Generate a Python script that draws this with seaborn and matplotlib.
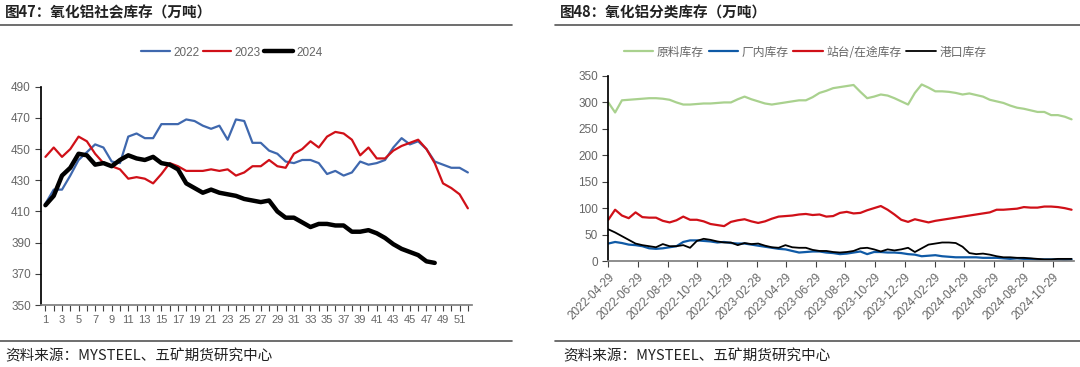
import pandas as pd
import matplotlib.pyplot as plt
from matplotlib.lines import Line2D
import seaborn as sns

# ---------------- data: social inventory by week (10k t) ----------------
weeks = list(range(1, 53))
stock_2022 = [415, 424, 424, 433, 443, 448, 453, 451, 442, 441, 458, 460, 457, 457, 466, 466, 466, 469,
              468, 465, 463, 465, 456, 469, 468, 454, 454, 449, 447, 442, 441, 443, 443, 441, 434, 436,
              433, 435, 442, 440, 441, 443, 451, 457, 453, 455, 450, 442, 440, 438, 438, 435]
stock_2023 = [445, 451, 445, 450, 458, 455, 447, 441, 439, 437, 431, 432, 431, 428, 434, 441, 439, 436,
              436, 436, 437, 436, 437, 433, 435, 439, 439, 443, 439, 438, 447, 450, 455, 451, 458, 461,
              460, 456, 446, 451, 444, 444, 449, 452, 454, 456, 450, 441, 428, 425, 421, 412]
stock_2024 = [414, 420, 433, 438, 447, 446, 440, 441, 439, 443, 446, 444, 443, 445, 441, 440, 437, 428,
              425, 422, 424, 422, 421, 420, 418, 417, 416, 417, 410, 406, 406, 403, 400, 402, 402, 401,
              401, 397, 397, 398, 396, 393, 389, 386, 384, 382, 378, 377]

# ---------------- data: inventory by type, every two weeks (10k t) ----------------
start_date = '2022-04-29'
raw_stock = [300, 281, 304, 305, 306, 307, 308, 308, 307, 305, 300, 296, 296, 297, 298, 298, 299, 300,
             300, 306, 311, 306, 302, 298, 296, 298, 300, 302, 304, 304, 310, 318, 322, 327, 329, 331,
             333, 320, 308, 311, 315, 313, 308, 302, 296, 318, 334, 328, 321, 321, 320, 318, 315, 317,
             314, 311, 305, 302, 299, 294, 290, 288, 285, 282, 282, 276, 276, 273, 268]
plant_stock = [33, 36, 34, 31, 30, 28, 24, 23, 24, 26, 28, 36, 39, 39, 38, 37, 35, 36, 34, 33, 33, 31,
               29, 27, 25, 23, 22, 19, 16, 17, 18, 18, 16, 15, 13, 14, 16, 18, 13, 17, 17, 16, 16, 15,
               13, 12, 9, 10, 11, 9, 8, 7, 7, 7, 7, 6, 6, 6, 5, 4, 5, 4, 4, 3, 3, 3, 3, 2, 3]
transit_stock = [78, 97, 86, 81, 92, 83, 82, 82, 76, 73, 77, 84, 78, 78, 75, 70, 68, 66, 74, 77, 79, 75,
                 72, 75, 80, 84, 85, 86, 88, 89, 87, 88, 84, 85, 91, 93, 90, 91, 96, 100, 104, 97, 88,
                 78, 74, 79, 76, 73, 76, 78, 80, 82, 84, 86, 88, 90, 92, 97, 97, 98, 99, 102, 101, 101,
                 103, 103, 102, 100, 97]
port_stock = [60, 54, 47, 40, 33, 30, 28, 26, 32, 28, 28, 30, 25, 38, 42, 40, 37, 35, 35, 30, 34, 32,
              33, 29, 26, 25, 30, 26, 25, 25, 21, 19, 19, 17, 16, 17, 19, 24, 25, 22, 18, 22, 20, 22,
              25, 17, 24, 31, 33, 35, 35, 34, 27, 15, 13, 14, 12, 9, 7, 7, 6, 6, 5, 4, 3, 3, 4, 4, 4]
tick_dates = ['2022-04-29', '2022-06-29', '2022-08-29', '2022-10-29', '2022-12-29', '2023-02-28',
              '2023-04-29', '2023-06-29', '2023-08-29', '2023-10-29', '2023-12-29', '2024-02-29',
              '2024-04-29', '2024-06-29', '2024-08-29', '2024-10-29']

dates = pd.date_range(start_date, periods=len(raw_stock), freq='14D')

# ---------------- style ----------------
sns.set_theme(style='ticks')
plt.rcParams['font.family'] = ['Liberation Sans', 'Noto Sans CJK SC', 'DejaVu Sans']
cjk = ['Noto Sans CJK SC', 'DejaVu Sans']
grey = '#666666'

W, H = 1080, 367
fig = plt.figure(figsize=(W / 100, H / 100), dpi=100)


def box(x0, y0, x1, y1):
    # pixel box -> figure fraction
    return [x0 / W, 1 - y1 / H, (x1 - x0) / W, (y1 - y0) / H]


def style_axes(ax):
    sns.despine(ax=ax)
    ax.spines['left'].set_color('black')
    ax.spines['bottom'].set_color('#808080')
    ax.tick_params(axis='both', direction='out', length=4, width=0.8, colors='#404040',
                   labelcolor=grey, labelsize=8.5)


# ---------------- left: social inventory ----------------
ax1 = fig.add_axes(box(41.3, 86.7, 472, 305))
sns.lineplot(x=weeks, y=stock_2022, ax=ax1, color='#3F68AE', lw=1.6, label='2022')
sns.lineplot(x=weeks, y=stock_2023, ax=ax1, color='#D01018', lw=1.6, label='2023')
sns.lineplot(x=weeks[:len(stock_2024)], y=stock_2024, ax=ax1, color='black', lw=3.2, label='2024')
ax1.set_xlim(0.5, 52.5)
ax1.set_ylim(350, 490)
ax1.set_yticks(range(350, 491, 20))
ax1.set_xticks(weeks)
ax1.set_xticklabels([str(w) if w % 2 else '' for w in weeks])
ax1.set_xlabel('')
ax1.set_ylabel('')
style_axes(ax1)
ax1.tick_params(axis='x', labelsize=8)
ax1.legend(loc='center', bbox_to_anchor=(232 / W, 1 - 52.5 / H), bbox_transform=fig.transFigure,
           ncol=3, frameon=False, fontsize=8.5, labelcolor=grey, handlelength=2.4,
           handletextpad=0.3, columnspacing=0.3)

# ---------------- right: inventory by type ----------------
ax2 = fig.add_axes(box(608.3, 76, 1074, 261))
sns.lineplot(x=dates, y=raw_stock, ax=ax2, color='#A9D18E', lw=1.6, label='原料库存')
sns.lineplot(x=dates, y=plant_stock, ax=ax2, color='#0F5AA6', lw=1.6, label='厂内库存')
sns.lineplot(x=dates, y=transit_stock, ax=ax2, color='#D01018', lw=1.6, label='站台/在途库存')
sns.lineplot(x=dates, y=port_stock, ax=ax2, color='black', lw=1.3, label='港口库存')
ax2.set_xlim(pd.Timestamp(start_date), pd.Timestamp('2024-12-11'))
ax2.set_ylim(0, 350)
ax2.set_yticks(range(0, 351, 50))
ax2.set_xticks(pd.to_datetime(tick_dates))
ax2.set_xticklabels(tick_dates, rotation=45, ha='right', rotation_mode='anchor')
ax2.set_xlabel('')
ax2.set_ylabel('')
style_axes(ax2)
ax2.tick_params(axis='x', labelsize=8.5)
ax2.legend(loc='center', bbox_to_anchor=(805 / W, 1 - 52 / H), bbox_transform=fig.transFigure,
           ncol=4, frameon=False, labelcolor=grey, handlelength=2.5,
           handletextpad=0.3, columnspacing=0.4, prop={'family': cjk, 'size': 8.5})

# ---------------- titles, rules and sources ----------------
for x0, x1 in [(0, 512), (555, W)]:
    fig.add_artist(Line2D([x0 / W, x1 / W], [1 - 25 / H] * 2, color='#555555', lw=1.2))
    fig.add_artist(Line2D([x0 / W, x1 / W], [1 - 340.5 / H] * 2, color='#555555', lw=1.2))

for x, title in [(5, '图47：氧化铝社会库存（万吨）'), (560, '图48：氧化铝分类库存（万吨）')]:
    fig.text(x / W, 1 - 12.5 / H, title, family=cjk, fontsize=10.5,
             color='#222222', va='center', ha='left', fontweight='bold')
for x in [5, 563]:
    fig.text(x / W, 1 - 356 / H, '资料来源：MYSTEEL、五矿期货研究中心', family=cjk, fontsize=10.5,
             color='#222222', va='center', ha='left', fontweight='medium')

fig.savefig('out.png', dpi=100)
